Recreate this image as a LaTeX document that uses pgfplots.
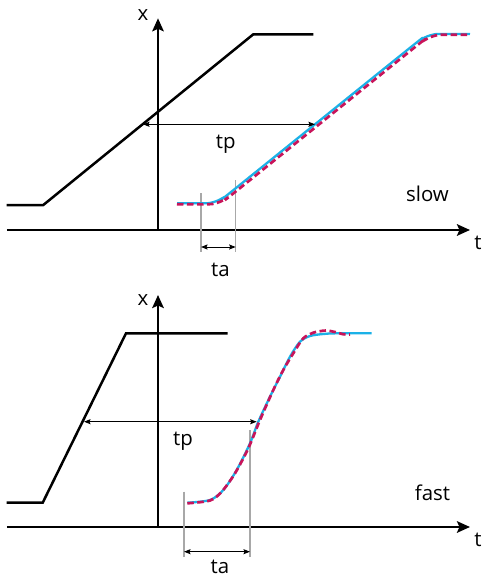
\documentclass[border=0pt]{standalone}
\usepackage{fontspec}
\setmainfont{Open Sans}
\usepackage{pgfplots}
\pgfplotsset{compat=1.18}
\usetikzlibrary{arrows.meta}

\definecolor{respblue}{HTML}{1BB1E7}
\definecolor{respred}{HTML}{C8145A}
\definecolor{guide}{HTML}{A8A8A8}

\tikzset{lbl/.style={anchor=base, font=\fontsize{20.5}{24}\selectfont}}

\pgfplotsset{
  panel/.style={
    x=1bp, y=1bp, xmin=-151, xmax=312, ymin=0,
    axis lines=middle, xtick=\empty, ytick=\empty,
    enlargelimits=false, clip=false,
    axis line style={line width=2.4bp, -{Stealth[length=13bp,width=11.5bp,inset=2.5bp]}},
  },
  cmd/.style={black, line width=2.5bp, no marks},
  resp/.style={respblue, line width=2.3bp, no marks, smooth},
  sim/.style={respred, line width=2.7bp, no marks, smooth, dash pattern=on 6.5bp off 3.5bp},
  guideline/.style={guide, line width=1.3bp, no marks},
  dim/.style={black, line width=1bp, no marks,
    {Stealth[length=6.5bp,width=5bp,inset=1bp]}-{Stealth[length=6.5bp,width=5bp,inset=1bp]}},
}

\begin{document}
\begin{tikzpicture}
\useasboundingbox (0,0) rectangle (483bp,-578bp);

% slow
\begin{axis}[panel, at={(7bp,-230bp)}, anchor=south west, ymax=211.7]
\addplot[guideline] coordinates {(43,37) (43,-22)};
\addplot[guideline] coordinates {(77.7,50) (77.7,-22)};
\addplot[cmd] coordinates {(-151.3,25) (-114.7,25) (95.3,195.7) (155.3,195.7)};
\addplot[resp] coordinates {(19,26.7) (47,26.7) (53,27.3) (59,29.1) (65,32.2) (71,36.4)
  (157,105.7) (257,186.2) (263.1,190.5) (269.1,193.6) (275.1,195.4) (281,196) (312,196)};
\addplot[sim] coordinates {(19,25.8) (50,25.8) (56,26.4) (62,28.2) (68,31.3) (74,35.5)
  (160,104.8) (260,185.3) (266.1,189.6) (272.1,192.7) (278.1,194.6) (284,195.3) (312,195.3)};
\addplot[dim] coordinates {(-15,105.7) (157,105.7)};
\addplot[dim] coordinates {(43,-17) (77.7,-17)};
\node[lbl] at (axis cs:-15,209.3) {x};
\node[lbl] at (axis cs:320,-19.3) {t};
\node[lbl] at (axis cs:67.8,81.7) {tp};
\node[lbl] at (axis cs:62.5,-46) {ta};
\node[lbl] at (axis cs:269.5,29) {slow};
\end{axis}

% fast
\begin{axis}[panel, at={(7bp,-527bp)}, anchor=south west, ymax=232]
\addplot[guideline] coordinates {(26,35.3) (26,-30)};
\addplot[guideline] coordinates {(92,97) (92,-30)};
\addplot[cmd] coordinates {(-151.3,24.3) (-115.3,24.3) (-32,193.7) (69.7,193.7)};
\addplot[resp] coordinates {(29.3,24.3) (52,27) (65.3,37) (78.7,57) (92,83.7) (100.3,105.3)
  (112,130.3) (122,150.3) (132,170.3) (142,185.3) (152,191) (165.3,193) (178.7,193.7) (213.7,193.7)};
\addplot[sim] coordinates {(29.3,23.7) (52,26.5) (63.7,35.3) (77,53.7) (90.3,78.7) (102,107)
  (115.3,137) (125.3,157) (135.3,173.7) (145.3,188.7) (155.3,194.3) (162,195.8) (168.7,196.5)
  (177,195) (185,192.8) (192,192.5)};
\addplot[dim] coordinates {(-74,105.3) (98.7,105.3)};
\addplot[dim] coordinates {(26,-24.7) (92,-24.7)};
\node[lbl] at (axis cs:-15,222) {x};
\node[lbl] at (axis cs:320,-19.7) {t};
\node[lbl] at (axis cs:25,82) {tp};
\node[lbl] at (axis cs:62,-46.3) {ta};
\node[lbl] at (axis cs:274.5,26.3) {fast};
\end{axis}
\end{tikzpicture}
\end{document}
